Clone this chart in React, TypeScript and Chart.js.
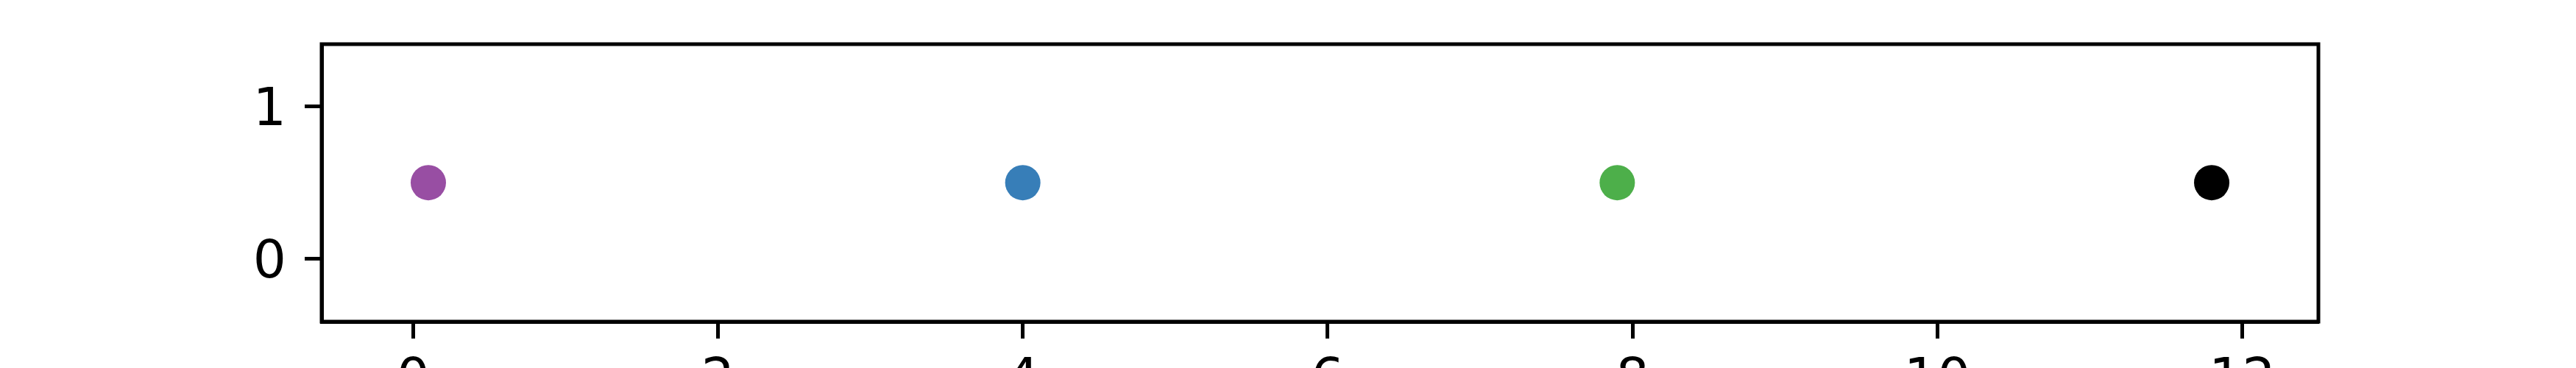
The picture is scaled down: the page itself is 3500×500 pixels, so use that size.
import React, { useEffect, useRef } from "react";
import { Chart, registerables } from "chart.js";

Chart.register(...registerables);

const xValues = [0.1, 4.0, 7.9, 11.8];
const yValues = [0.5, 0.5, 0.5, 0.5];
const pointColors = ["#984ea3", "#377eb8", "#4daf4a", "#000000"];
const xTicks = [0, 2, 4, 6, 8, 10, 12];
const yTicks = [0, 1];
const xRange = [-0.6, 12.5];
const yRange = [-0.414, 1.411];

const boxPlugin = {
  id: "box",
  afterDraw(chart: any) {
    const { ctx, chartArea } = chart;
    ctx.save();
    ctx.strokeStyle = "#000";
    ctx.lineWidth = 5;
    ctx.lineJoin = "miter";
    ctx.strokeRect(
      chartArea.left,
      chartArea.top,
      chartArea.right - chartArea.left,
      chartArea.bottom - chartArea.top
    );
    ctx.restore();
  },
};

const zeroPad = (s: any) => {
  s.paddingTop = 0;
  s.paddingBottom = 0;
  s.paddingLeft = 0;
  s.paddingRight = 0;
};

export default function App() {
  const ref = useRef<HTMLCanvasElement | null>(null);
  useEffect(() => {
    if (!ref.current) return;
    const font = { family: "DejaVu Sans", size: 71 };
    const chart = new Chart(ref.current, {
      type: "scatter",
      data: {
        datasets: [
          {
            data: xValues.map((x, i) => ({ x, y: yValues[i] })),
            backgroundColor: pointColors,
            borderWidth: 0,
            pointRadius: 24,
            pointHoverRadius: 24,
          },
        ],
      },
      options: {
        animation: false,
        responsive: false,
        devicePixelRatio: 1,
        events: [],
        layout: { padding: { left: 0, right: 350, top: 60, bottom: 0 } },
        plugins: { legend: { display: false }, tooltip: { enabled: false } },
        scales: {
          x: {
            type: "linear",
            min: xRange[0],
            max: xRange[1],
            afterBuildTicks: (s: any) => {
              s.ticks = xTicks.map((v) => ({ value: v }));
            },
            afterFit: (s: any) => {
              s.height = 63;
              zeroPad(s);
            },
            grid: {
              display: true,
              drawOnChartArea: false,
              drawTicks: true,
              tickLength: 23,
              tickWidth: 5,
              tickColor: "#000",
            },
            border: { display: true, width: 5, color: "#000" },
            ticks: { font, color: "#000", padding: 16, maxRotation: 0, autoSkip: false },
          },
          y: {
            type: "linear",
            min: yRange[0],
            max: yRange[1],
            afterBuildTicks: (s: any) => {
              s.ticks = yTicks.map((v) => ({ value: v }));
            },
            afterFit: (s: any) => {
              s.width = 437;
              zeroPad(s);
            },
            grid: {
              display: true,
              drawOnChartArea: false,
              drawTicks: true,
              tickLength: 23,
              tickWidth: 5,
              tickColor: "#000",
            },
            border: { display: true, width: 5, color: "#000" },
            ticks: { font, color: "#000", padding: 25, labelOffset: 7, autoSkip: false },
          },
        },
      },
      plugins: [boxPlugin],
    });
    return () => chart.destroy();
  }, []);
  return (
    <div style={{ position: "absolute", left: 0, top: 0, width: 3500, height: 500, background: "#fff" }}>
      <canvas ref={ref} width={3500} height={500} style={{ width: 3500, height: 500 }} />
    </div>
  );
}
